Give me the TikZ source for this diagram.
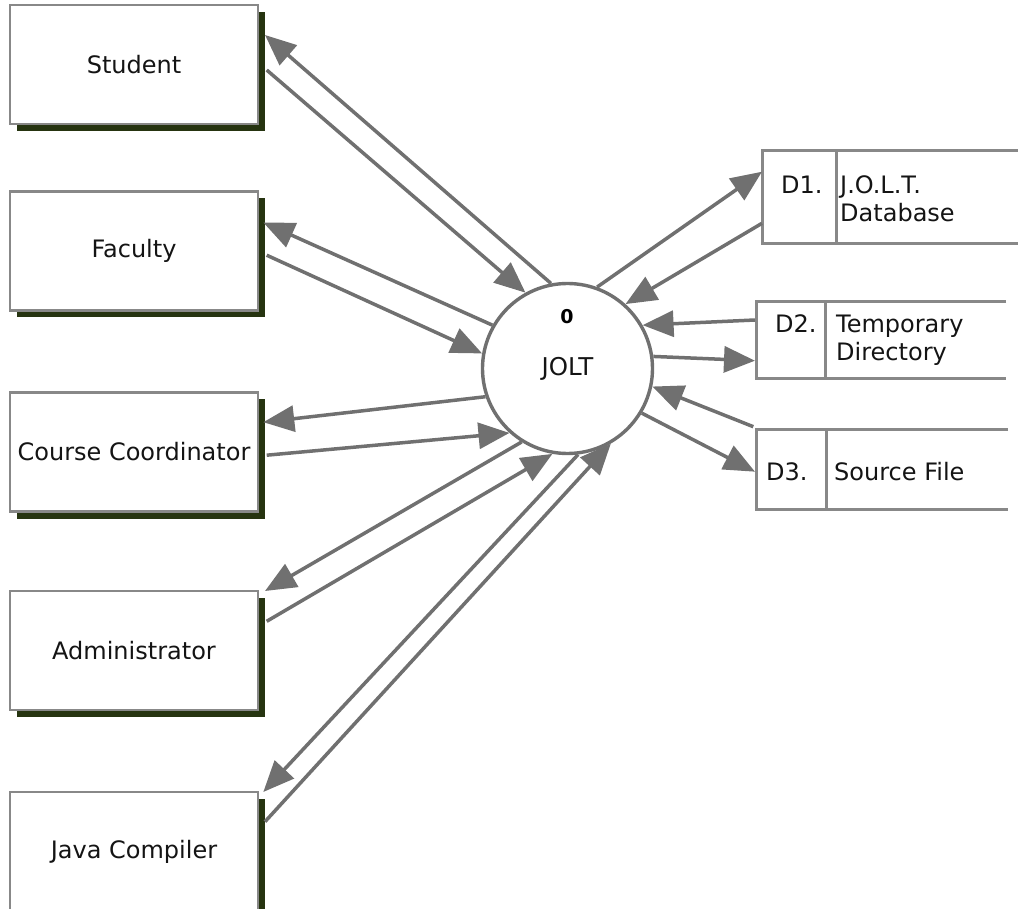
\documentclass[tikz,border=0pt]{standalone}
\usepackage{fontspec}
\setmainfont{DejaVu Sans}
\usetikzlibrary{arrows.meta,shadows,calc}
\definecolor{arrowgray}{RGB}{112,112,112}
\definecolor{boxgray}{RGB}{136,136,136}
\definecolor{shadowc}{RGB}{38,52,16}
\definecolor{txt}{RGB}{20,20,20}
\begin{document}
\begin{tikzpicture}[x=1pt,y=-1pt,
  entity/.style={draw=boxgray, line width=2.5pt, fill=white, minimum width=248pt,
    minimum height=119pt, inner sep=0pt, outer sep=0pt, text=txt,
    font=\fontsize{24}{28}\selectfont,
    drop shadow={shadow xshift=7pt, shadow yshift=-7pt, fill=shadowc, opacity=1}},
  flow/.style={draw=arrowgray, line width=3.5pt, -{Triangle[length=31pt,width=26pt]}},
  storearea/.style={inner sep=0pt, outer sep=0pt},
  storeline/.style={draw=boxgray, line width=3pt},
  stxt/.style={anchor=base west, inner sep=0pt, text=txt, font=\fontsize{24}{28}\selectfont}]
\useasboundingbox (0,0) rectangle (1018,909);
\clip (0,0) rectangle (1018,909);

% external entities
\node[entity] (student) at (134,64.5) {Student};
\node[entity] (faculty) at (134,251) {Faculty};
\node[entity] (cc) at (134,452) {Course Coordinator};
\node[entity] (admin) at (134,650.5) {Administrator};
\node[entity] (java) at (134,851.5) {Java Compiler};

% process
\node[circle, draw=arrowgray, line width=3.4pt, fill=white, minimum size=170pt,
  inner sep=0pt, text=txt, font=\fontsize{24.5}{28}\selectfont] (jolt) at (567.5,368.5) {JOLT};
\node[text=black, font=\bfseries\fontsize{19}{22}\selectfont] (num) at (567,317) {0};

% data stores
\node[storearea, minimum width=256pt, minimum height=93pt] (d1) at (890,197.5) {};
\draw[storeline] (d1.north east) -- (d1.north west) -- (d1.south west) -- (d1.south east);
\draw[storeline] ($(d1.north west)+(74.7,0)$) -- ($(d1.south west)+(74.7,0)$);
\node[stxt] (d1id) at (781,193.5) {D1.};
\node[stxt] (d1a) at (840,193.5) {J.O.L.T.};
\node[stxt] (d1b) at (840,221.5) {Database};

\node[storearea, minimum width=250pt, minimum height=77pt] (d2) at (881,340.5) {};
\draw[storeline] (d2.north east) -- (d2.north west) -- (d2.south west) -- (d2.south east);
\draw[storeline] ($(d2.north west)+(69,0)$) -- ($(d2.south west)+(69,0)$);
\node[stxt] (d2id) at (775,333) {D2.};
\node[stxt] (d2a) at (836,333) {Temporary};
\node[stxt] (d2b) at (836,360.5) {Directory};

\node[storearea, minimum width=252pt, minimum height=80pt] (d3) at (882,469.5) {};
\draw[storeline] (d3.north east) -- (d3.north west) -- (d3.south west) -- (d3.south east);
\draw[storeline] ($(d3.north west)+(70,0)$) -- ($(d3.south west)+(70,0)$);
\node[stxt] (d3id) at (766,480) {D3.};
\node[stxt] (d3a) at (834,480) {Source File};

% flows: entities
\draw[flow] (jolt.101.4) -- ($(student.north east)+(7,30)$);
\draw[flow] ($(student.north east)+(8.7,65)$) -- (jolt.119.6);
\draw[flow] (jolt.150.7) -- ($(faculty.north east)+(5.3,31)$);
\draw[flow] ($(faculty.north east)+(8.7,63.7)$) -- (jolt.170.9);
\draw[flow] (jolt.199.5) -- ($(cc.north east)+(5.3,29.7)$);
\draw[flow] ($(cc.north east)+(8.7,62.7)$) -- (jolt.228.2);
\draw[flow] (jolt.238.8) -- ($(admin.north east)+(7,0)$);
\draw[flow] ($(admin.north east)+(8.7,30.3)$) -- (jolt.260.7);
\draw[flow] (jolt.277) -- ($(java.north east)+(5.3,0)$);
\draw[flow] ($(java.north east)+(7,29.7)$) -- (jolt.300.6);

% flows: stores
\draw[flow] (jolt.70.4) -- ($(d1.north west)+(0,20.7)$);
\draw[flow] ($(d1.north west)+(0,72.3)$) -- (jolt.48.7);
\draw[flow] ($(d2.north west)+(-1,18)$) -- (jolt.30.6);
\draw[flow] (jolt.8.9) -- ($(d2.north west)+(-1,58.7)$);
\draw[flow] ($(d3.north west)+(-2.7,-2.8)$) -- (jolt.348.5);
\draw[flow] (jolt.329.4) -- ($(d3.north west)+(-1,42.2)$);
\end{tikzpicture}
\end{document}
